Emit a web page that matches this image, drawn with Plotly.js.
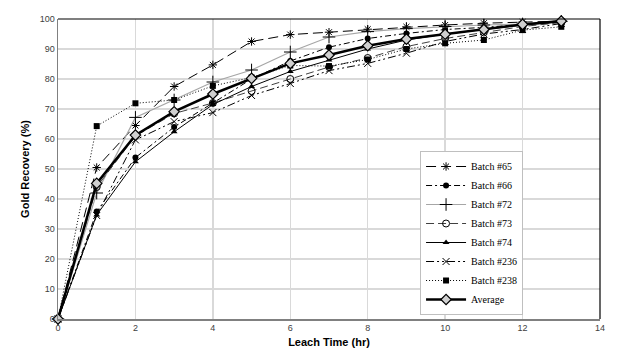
<!DOCTYPE html>
<html><head><meta charset="utf-8">
<script src="https://cdn.plot.ly/plotly-3.0.1.min.js"></script>
<style>html,body{margin:0;padding:0;background:#fff}#c{width:627px;height:352px}</style>
</head><body><div id="c"></div>
<script>
const time = [0,1,2,3,4,5,6,7,8,9,10,11,12,13];
const batch65  = [0,50.5,64.5,77.5,84.7,92.5,94.8,95.6,96.6,97.4,98,98.6,99,99.3];
const batch66  = [0,35.8,53.8,64,72,80,86,90.6,93.5,95.2,96.5,97.2,98.2,99];
const batch72  = [0,42,67.2,73,79,83,89,94,95.8,96.8,97.5,98,98.3,99.2];
const batch73  = [0,44,61,68.5,72,76,80,84,87,90.8,93.5,95.5,97.5,98.8];
const batch74  = [0,34.7,52.4,62.4,71.5,77.5,82.5,86.3,90,93,95,96.5,98,99];
const batch236 = [0,34.5,59.7,65.8,68.8,74.5,78.5,82.8,85.2,88.6,92.5,95,96.5,98.5];
const batch238 = [0,64.3,71.9,73,77.7,80.5,84.5,84.3,86.5,90,91.9,93,96.3,97.4];
const average  = [0,45.2,61.3,69.1,75,80.2,85.2,88,91.1,93.3,94.9,96.5,98.2,99.3];
const names = ['Batch #65','Batch #66','Batch #72','Batch #73','Batch #74','Batch #236','Batch #238','Average'];

function tr(y, name, line, marker){
  return {x: time, y: y, name: name, type:'scatter', mode:'lines+markers', line: line, marker: marker, cliponaxis:false};
}
const data = [
  tr(batch65, names[0], {color:'#000', width:1, dash:'10px,5px'}, {symbol:'asterisk-open', size:7, color:'#000', line:{width:1, color:'#000'}}),
  tr(batch66, names[1], {color:'#000', width:1, dash:'6px,3px,2px,3px'}, {symbol:'circle', size:6, color:'#000'}),
  tr(batch72, names[2], {color:'#a6a6a6', width:1.2}, {symbol:'cross-thin-open', size:9, color:'#000', line:{width:1, color:'#000'}}),
  tr(batch73, names[3], {color:'#404040', width:1, dash:'8px,4px'}, {symbol:'circle-open', size:7, color:'#000', line:{width:1, color:'#000'}}),
  tr(batch74, names[4], {color:'#000', width:1}, {symbol:'triangle-up', size:6, color:'#000'}),
  tr(batch236, names[5], {color:'#000', width:1, dash:'8px,3px,2px,3px,2px,3px'}, {symbol:'x-thin-open', size:7, color:'#000', line:{width:1, color:'#000'}}),
  tr(batch238, names[6], {color:'#000', width:1, dash:'1px,2px'}, {symbol:'square', size:6, color:'#000'}),
  tr(average, names[7], {color:'#000', width:2.5}, {symbol:'diamond', size:8, color:'#d0d0d0', line:{width:1.2, color:'#000'}})
];
const layout = {
  width:627, height:352,
  margin:{l:58, r:27, t:19, b:33},
  paper_bgcolor:'#fff', plot_bgcolor:'#fff',
  font:{family:'Arial, Liberation Sans, sans-serif', size:9, color:'#404040'},
  xaxis:{range:[0,14], dtick:2, tick0:0, showgrid:true, gridcolor:'#d9d9d9', gridwidth:1.5,
    zeroline:false, showline:true, linecolor:'#808080', linewidth:1.5, ticks:'', ticklen:0,
    title:{text:'Leach Time (hr)', font:{family:'Arial, Liberation Sans, sans-serif', size:11, color:'#000', weight:'bold'}, standoff:6}},
  yaxis:{range:[0,100], dtick:10, tick0:0, showgrid:true, gridcolor:'#d9d9d9', gridwidth:1.5,
    zeroline:false, showline:true, linecolor:'#808080', linewidth:1.5, ticks:'', ticklen:0,
    title:{text:'Gold Recovery (%)', font:{family:'Arial, Liberation Sans, sans-serif', size:11, color:'#000', weight:'bold'}, standoff:8}},
  shapes:[
    {type:'line', xref:'paper', yref:'paper', x0:0, x1:1, y0:1, y1:1, line:{color:'#000', width:1.2}},
    {type:'line', xref:'paper', yref:'paper', x0:1, x1:1, y0:0, y1:1, line:{color:'#000', width:1.2}}
  ],
  legend:{x:0.668, y:0.56, xanchor:'left', yanchor:'top', bgcolor:'#fff', bordercolor:'#bfbfbf', borderwidth:1,
    font:{family:'Liberation Serif, Times New Roman, serif', size:10, color:'#000'}, tracegroupgap:0, itemwidth:40},
  showlegend:true
};
Plotly.newPlot('c', data, layout, {displayModeBar:false, staticPlot:true});
</script></body></html>
